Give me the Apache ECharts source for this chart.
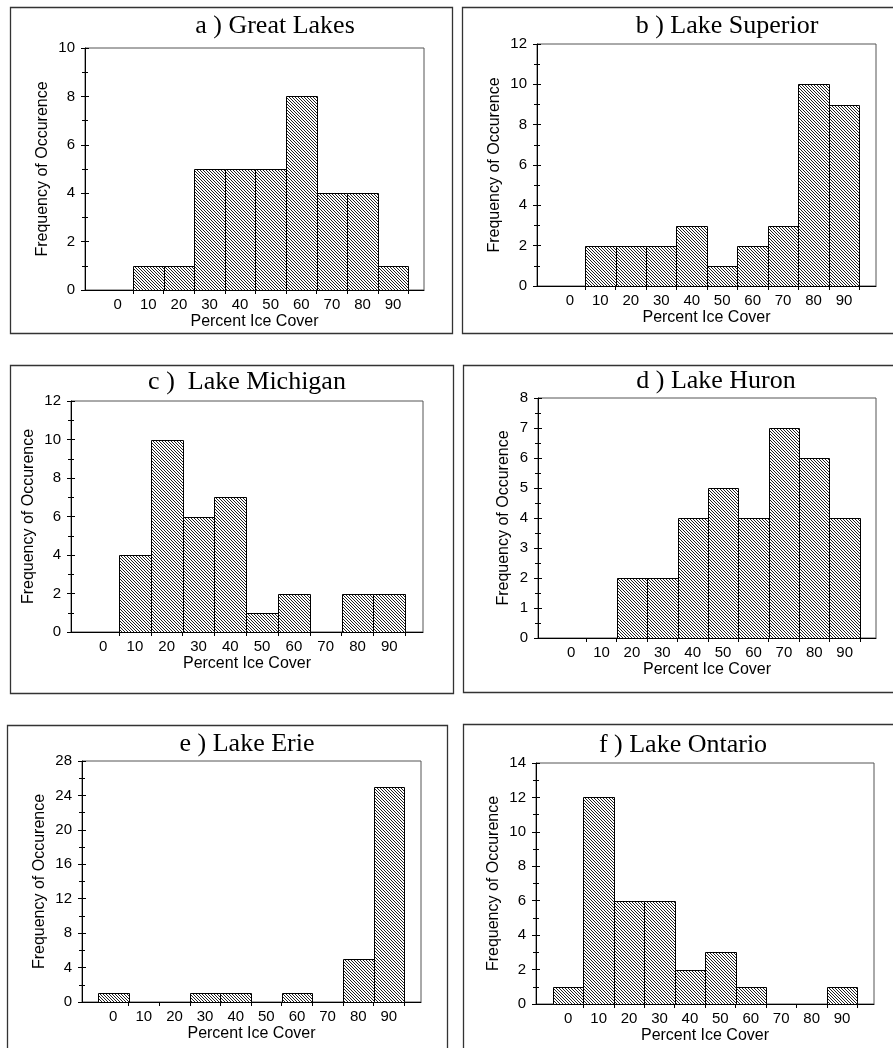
<!DOCTYPE html>
<html>
<head>
<meta charset="utf-8">
<script src="https://cdn.jsdelivr.net/npm/echarts@6/dist/echarts.min.js"></script>
<style>
  html, body { margin: 0; padding: 0; background: #fff; }
  #chart { width: 893px; height: 1048px; }
</style>
</head>
<body>
<div id="chart"></div>
<script>
// bins (percent ice cover) and counts per lake
var bins = [0, 10, 20, 30, 40, 50, 60, 70, 80, 90];
var binTicks = [5, 15, 25, 35, 45, 55, 65, 75, 85, 95];
var binWidth = 10;

var greatLakes  = [0, 1, 1, 5, 5, 5, 8, 4, 4, 1];
var superior    = [0, 2, 2, 2, 3, 1, 2, 3, 10, 9];
var michigan    = [0, 4, 10, 6, 7, 1, 2, 0, 2, 2];
var huron       = [0, 0, 2, 2, 4, 5, 4, 7, 6, 4];
var erie        = [1, 0, 0, 1, 1, 0, 1, 0, 5, 25];
var ontario     = [1, 12, 6, 6, 2, 3, 1, 0, 0, 1];

var titles = ['a ) Great Lakes', 'b ) Lake Superior', 'c )  Lake Michigan',
              'd ) Lake Huron', 'e ) Lake Erie', 'f ) Lake Ontario'];

// y scale per panel
var yMax   = [10, 12, 12, 8, 28, 14];
var yStep  = [2, 2, 2, 1, 4, 2];

(function() {
    var myChart = echarts.init(document.getElementById('chart'));

    // hatch pattern "\\\\"
    var cv = document.createElement('canvas');
    cv.width = 3; cv.height = 3;
    var ctx = cv.getContext('2d');
    ctx.fillStyle = '#fff';
    ctx.fillRect(0, 0, 3, 3);
    ctx.fillStyle = '#222';
    for (var i = 0; i < 3; i++) ctx.fillRect(i, i, 1, 1);
    var hatch = { image: cv, repeat: 'repeat' };

    var series = [greatLakes, superior, michigan, huron, erie, ontario];

    // layout of each panel
    var panels = [
        { grid: [85, 48, 339, 242],  box: [10, 7, 442, 326],   title: [275, 26], xr: [-10.7, 100.1] },
        { grid: [537, 44, 339, 242], box: [462, 7, 440, 326],  title: [727, 26], xr: [-10.8, 100.5] },
        { grid: [71, 401, 352, 231], box: [10, 365, 443, 328], title: [247, 382], xr: [-10.1, 100.6] },
        { grid: [538, 398, 338, 240],box: [463, 365, 440, 327],title: [716, 381], xr: [-10.9, 100.3] },
        { grid: [82, 761, 339, 241], box: [7, 725, 440, 400],  title: [247, 744], xr: [-10.2, 100.5] },
        { grid: [536, 763, 338, 241],box: [463, 724, 440, 400],title: [683, 745], xr: [-10.6, 100.5] }
    ];

    var labelFont = { fontFamily: 'Liberation Sans', fontSize: 15, color: '#000' };
    var nameFont = { fontFamily: 'Liberation Sans', fontSize: 16, color: '#000' };

    var grids = [], xAxes = [], yAxes = [], seriesList = [], graphics = [];

    panels.forEach(function(p, k) {
        grids.push({
            left: p.grid[0], top: p.grid[1], width: p.grid[2], height: p.grid[3],
            show: true, borderColor: '#555', borderWidth: 1, backgroundColor: 'transparent'
        });
        xAxes.push({
            gridIndex: k, type: 'value', min: p.xr[0], max: p.xr[1],
            name: 'Percent Ice Cover', nameLocation: 'middle', nameGap: 24,
            nameTextStyle: nameFont,
            axisLine: { onZero: false, lineStyle: { color: '#000', width: 1 } },
            axisTick: { show: true, length: 4, customValues: binTicks, lineStyle: { color: '#000' } },
            axisLabel: Object.assign({ margin: 7, customValues: bins }, labelFont),
            splitLine: { show: false }
        });
        yAxes.push({
            gridIndex: k, type: 'value', position: 'left', min: 0, max: yMax[k], interval: yStep[k],
            name: 'Frequency of Occurence', nameLocation: 'middle', nameRotate: 90,
            nameGap: k === 3 ? 26 : 34,
            nameTextStyle: nameFont,
            axisLine: { onZero: false, lineStyle: { color: '#000', width: 1 } },
            axisTick: { length: 4, lineStyle: { color: '#000' } },
            minorTick: { show: true, splitNumber: 2, length: 3, lineStyle: { color: '#000' } },
            axisLabel: Object.assign({ margin: 10 }, labelFont),
            splitLine: { show: false }
        });
        // second axis only for ticks on the inner side
        yAxes.push({
            gridIndex: k, type: 'value', position: 'left', min: 0, max: yMax[k], interval: yStep[k],
            axisLine: { show: false, onZero: false },
            axisTick: { inside: true, length: 4, lineStyle: { color: '#000' } },
            minorTick: { show: true, splitNumber: 2, length: 3, lineStyle: { color: '#000' } },
            axisLabel: { show: false },
            splitLine: { show: false }
        });
        seriesList.push({
            type: 'custom',
            xAxisIndex: k,
            yAxisIndex: 2 * k,
            data: bins.map(function(b, i) { return [b, series[k][i]]; }),
            renderItem: function(params, api) {
                var x = api.value(0), y = api.value(1);
                var p0 = api.coord([x - binWidth / 2, y]);
                var p1 = api.coord([x + binWidth / 2, 0]);
                var x0 = Math.round(p0[0]) + 0.5, x1 = Math.round(p1[0]) + 0.5;
                var y0 = Math.round(p0[1]) + 0.5, y1 = Math.round(p1[1]) + 0.5;
                return {
                    type: 'rect',
                    shape: { x: x0, y: y0, width: x1 - x0, height: y1 - y0 },
                    style: { fill: hatch, stroke: '#000', lineWidth: 1 }
                };
            }
        });
        graphics.push({
            type: 'rect', silent: true, z: 0,
            shape: { x: p.box[0] + 0.5, y: p.box[1] + 0.5, width: p.box[2], height: p.box[3] },
            style: { fill: 'none', stroke: '#333', lineWidth: 1.3 }
        });
        graphics.push({
            type: 'text', silent: true,
            x: p.title[0], y: p.title[1],
            style: {
                text: titles[k], fontFamily: 'Liberation Serif', fontSize: 26,
                fill: '#000', align: 'center', verticalAlign: 'middle'
            }
        });
    });

    var option = {
        backgroundColor: '#fff',
        animation: false,
        grid: grids,
        xAxis: xAxes,
        yAxis: yAxes,
        series: seriesList,
        graphic: graphics
    };

    myChart.setOption(option);

    window.addEventListener('resize', function() {
        myChart.resize();
    });
})();
</script>
</body>
</html>
